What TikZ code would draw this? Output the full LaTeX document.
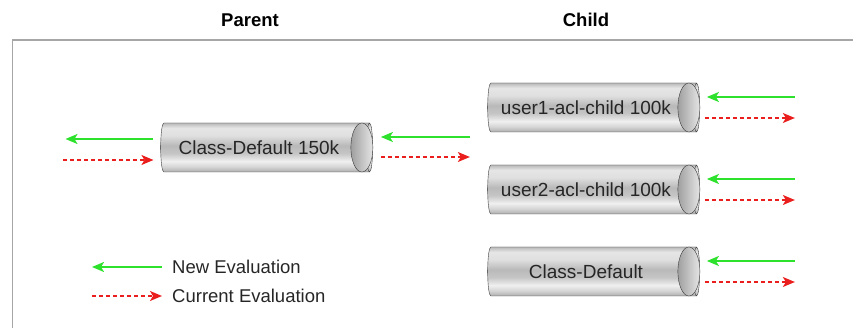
\documentclass[tikz,border=0pt]{standalone}
\usepackage{fontspec}
\setmainfont{Liberation Sans}
\usetikzlibrary{shapes.geometric,arrows.meta}
\definecolor{evgreen}{RGB}{45,225,45}
\definecolor{evred}{RGB}{235,30,30}
\pgfdeclareverticalshading{pipebody}{100bp}{color(0bp)=(gray!65); color(25bp)=(gray!65); color(30bp)=(gray!35); color(36bp)=(gray!12); color(44bp)=(gray!45); color(52bp)=(gray!55); color(62bp)=(gray!25); color(70bp)=(gray!20); color(75bp)=(gray!55); color(100bp)=(gray!55)}
\tikzset{
  head/.style={font=\bfseries\fontsize{18.5}{20}\selectfont},
  pipe/.style={cylinder, shape aspect=0.45, draw=gray!45!black, thin, shade, shading=pipebody,
    minimum height=212pt, minimum width=49pt, inner sep=0pt, text=black!85,
    font=\fontsize{19}{20}\selectfont, execute at end node=\hspace{12pt}},
  pipeend/.style={draw=gray!45!black, thin, left color=gray!75, right color=gray!20},
  newev/.style={evgreen, line width=2pt, -{Stealth[length=12pt,width=10pt,inset=3pt]}},
  curev/.style={evred, line width=1.4pt, dash pattern=on 4pt off 3pt, -{Stealth[length=12pt,width=10pt,inset=3pt]}},
  legtext/.style={anchor=west, inner sep=0pt, text=black!85, font=\fontsize{18.5}{20}\selectfont}
}
\begin{document}
\begin{tikzpicture}[x=1pt,y=-1pt]
\useasboundingbox (0,0) rectangle (853,328);
\node[head] (parenthead) at (250,20) {Parent};
\node[head] (childhead) at (586,20) {Child};
\draw[gray!70, line width=1.5pt] (12.5,328) -- (12.5,40) -- (853,40);

% parent
\node[pipe] (parent) at (265,147.5) {Class-Default 150k};
\shade[pipeend] ([xshift=-11pt]parent.east) ellipse [x radius=11, y radius=24.5];
\draw[newev] ([xshift=-7pt,yshift=8.5pt]parent.west) -- ++(-88,0);
\draw[curev] ([xshift=-97pt,yshift=-12.5pt]parent.west) -- ++(90,0);
\draw[newev] ([xshift=97pt,yshift=10.5pt]parent.east) -- ++(-89,0);
\draw[curev] ([xshift=8pt,yshift=-9.5pt]parent.east) -- ++(89,0);

% children
\node[pipe] (child1) at (592,107.5) {user1-acl-child 100k};
\node[pipe] (child2) at (592,189.5) {user2-acl-child 100k};
\node[pipe] (child3) at (592,271.5) {Class-Default};
\foreach \c in {child1,child2,child3} {
  \shade[pipeend] ([xshift=-11pt]\c.east) ellipse [x radius=11, y radius=24.5];
  \draw[newev] ([xshift=95pt,yshift=10.5pt]\c.east) -- ++(-88,0);
  \draw[curev] ([xshift=5pt,yshift=-10.5pt]\c.east) -- ++(90,0);
}

% legend
\node[legtext] (newlabel) at (172,267) {New Evaluation};
\node[legtext] (curlabel) at (172,296) {Current Evaluation};
\draw[newev] ([xshift=-10pt]newlabel.west) -- ++(-70,0);
\draw[curev] ([xshift=-80pt]curlabel.west) -- ++(70,0);
\end{tikzpicture}
\end{document}
